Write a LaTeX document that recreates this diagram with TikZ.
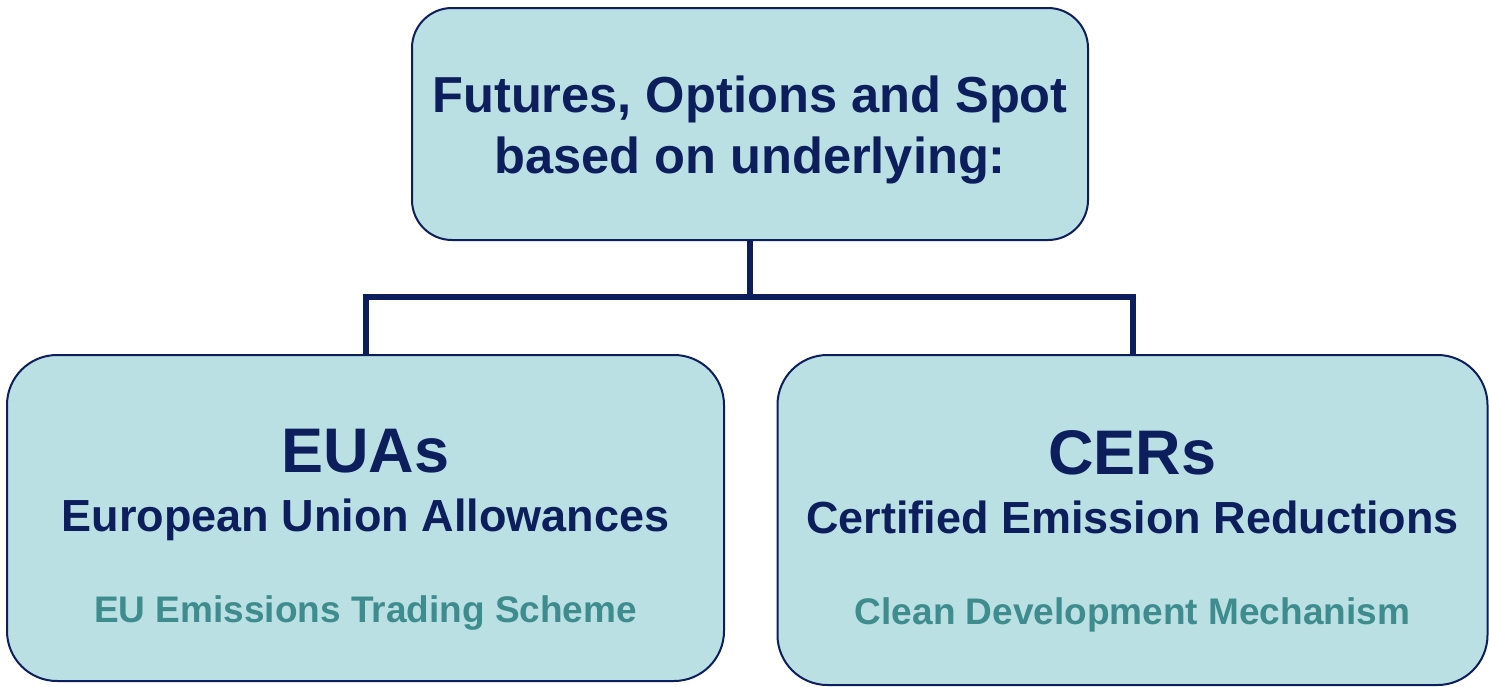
\documentclass[tikz,border=0pt]{standalone}
\usepackage{fontspec}
\setmainfont{Liberation Sans}
\usepackage{tikz}

\definecolor{boxfill}{HTML}{BAE0E3}
\definecolor{navy}{HTML}{0C1E5C}
\definecolor{teal}{HTML}{3E8C8E}

\begin{document}
\begin{tikzpicture}[x=0.5pt,y=-0.5pt,
  box/.style={draw=navy,line width=1pt,fill=boxfill,align=center,text=navy,inner sep=0pt},
  link/.style={draw=navy,line width=3pt}]
\useasboundingbox (0,0) rectangle (1489,686);
% the struts push the text a little below the middle of each box
\node[box,rounded corners=20pt,minimum width=338pt,minimum height=116pt,
      font=\bfseries\fontsize{25.3}{30.5}\selectfont] (top) at (750,124)
  {\rule{0pt}{24.5pt}Futures, Options and Spot\\ based on underlying:};
\node[box,rounded corners=25pt,minimum width=358.5pt,minimum height=163pt,
      font=\bfseries\fontsize{22}{29.5}\selectfont] (eua) at (365.5,518)
  {\fontsize{31.5}{32}\selectfont\rule{0pt}{33pt}EUAs\\
   \fontsize{22.5}{24}\selectfont European Union Allowances\\[16pt]
   \fontsize{18.5}{20}\selectfont\color{teal} EU Emissions Trading Scheme};
\node[box,rounded corners=25pt,minimum width=355pt,minimum height=165pt,
      font=\bfseries\fontsize{22}{29.5}\selectfont] (cer) at (1132.5,520)
  {\fontsize{31.5}{32}\selectfont\rule{0pt}{33pt}CERs\\
   \fontsize{22.5}{24}\selectfont Certified Emission Reductions\\[16pt]
   \fontsize{18.5}{20}\selectfont\color{teal} Clean Development Mechanism};
\coordinate (split) at (750,297);
\draw[link] (top.south) -- (split);
\draw[link] (split) -| (eua.north);
\draw[link] (split) -| (cer.north);
\end{tikzpicture}
\end{document}
